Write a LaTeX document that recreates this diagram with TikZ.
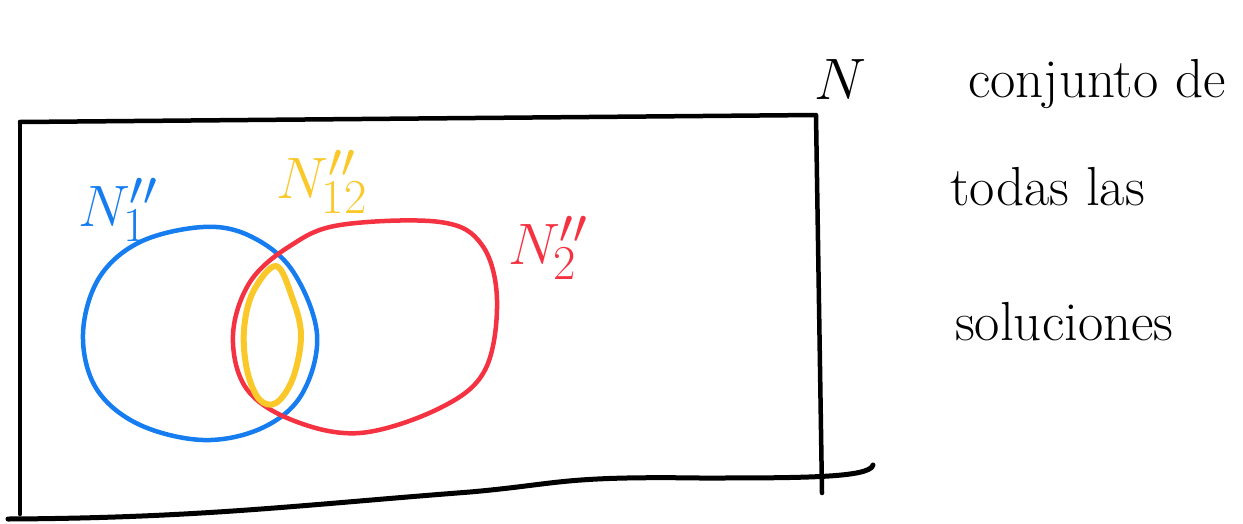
\documentclass[tikz,border=0pt]{standalone}
\usetikzlibrary{calc}
\definecolor{pblue}{RGB}{22,125,240}
\definecolor{pred}{RGB}{245,50,65}
\definecolor{pyellow}{RGB}{250,200,40}
\newcommand{\biglbl}[1]{\scalebox{2.35}{\Huge$#1$}}
\begin{document}
\begin{tikzpicture}[x=1pt,y=-1pt,
  pen/.style={line width=4.5pt,line cap=round,line join=round},
  lbl/.style={inner sep=0pt},
  note/.style={inner sep=0pt,anchor=base west,font=\fontsize{55}{55}\selectfont}]
\useasboundingbox (0,0) rectangle (1243,523);
% universe rectangle
\coordinate (tl) at (20,122);
\coordinate (tr) at (816,115);
\coordinate (br) at (822,493);
\coordinate (bl) at (20,514);
\draw[pen,black] (tl) -- (tr) -- (br);
\draw[pen,black] (tl) -- (bl);
\draw[pen,black,line width=5pt] (8,519) .. controls (200,518) and (300,505) .. (470,492)
  .. controls (560,484) and (560,476) .. (700,478) .. controls (800,478) and (870,478) .. (873,465);
% blue set
\draw[pen,pblue] plot[smooth cycle,tension=0.6] coordinates {(83,334) (99,278) (140,242) (203,227) (250,236) (292,270) (317,334) (302,394) (262,428) (203,440) (138,424) (96,388)};
% red set
\draw[pen,pred] plot[smooth cycle,tension=0.6] coordinates {(233,335) (250,282) (290,246) (340,225) (440,222) (482,245) (497,300) (485,370) (440,408) (360,433) (292,420) (246,388)};
% yellow intersection
\draw[pen,pyellow,line width=6pt] plot[smooth cycle,tension=0.6] coordinates {(276,266) (292,297) (301,335) (293,378) (276,403) (259,399) (247,370) (244,330) (253,292)};
% labels
\node[lbl,text=pblue] (n1) at (118,210) {\biglbl{N_1''}};
\node[lbl,text=pyellow] (n12) at (322,182) {\biglbl{N_{12}''}};
\node[lbl,text=pred] (n2) at (548,248) {\biglbl{N_2''}};
\node[lbl,text=black] (n) at (840,80) {\biglbl{N}};
\node[note] (t1) at (968,97) {conjunto de};
\node[note] (t2) at (950,205) {todas las};
\node[note] (t3) at (955,340) {soluciones};
\end{tikzpicture}
\end{document}
